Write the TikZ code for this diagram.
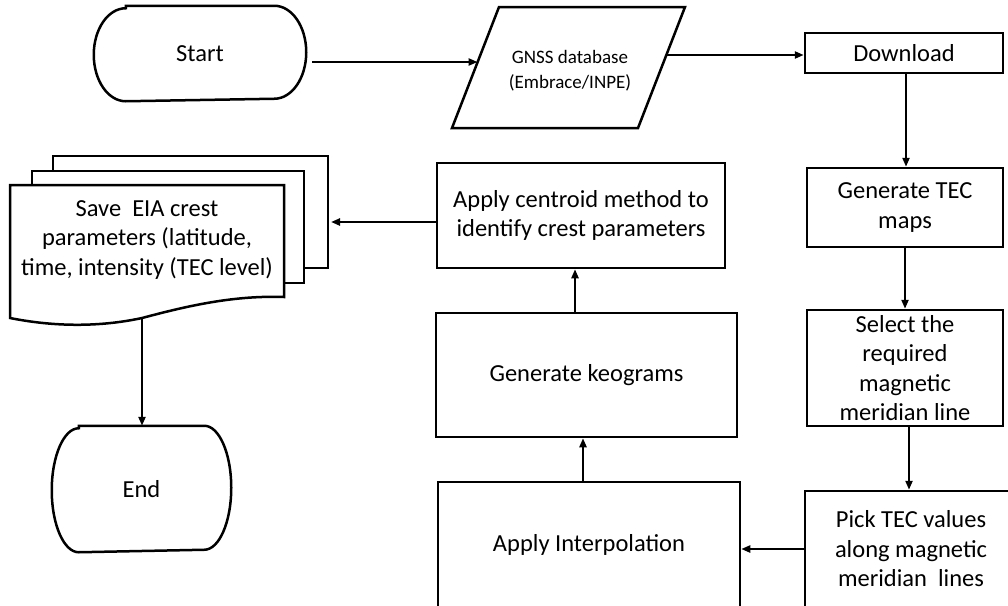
\documentclass[tikz,border=0pt]{standalone}
\usepackage{fontspec}
\setmainfont{Carlito}
\usetikzlibrary{arrows.meta}
\begin{document}
\begin{tikzpicture}[x=1pt,y=1pt,
  line width=2.5pt,
  mainfont/.style={font=\fontsize{24.5}{29.5}\selectfont},
  box/.style={draw, line width=2.5pt, align=center, inner sep=0pt, mainfont},
  plain/.style={align=center, inner sep=0pt, mainfont},
  arr/.style={-{Triangle[length=9pt,width=7pt]}, line width=2.2pt}]
\useasboundingbox (0,0) rectangle (1008,-605);
\clip (0,0) rectangle (1008,-605);

% Start terminator
\node[plain, minimum width=210pt, minimum height=93pt] (start) at (200,-53.5) {Start};
\draw ([xshift=32pt]start.north west) -- ([xshift=-32pt]start.north east)
  arc[start angle=90, end angle=-90, x radius=32pt, y radius=46.5pt]
  -- ([xshift=32pt]start.south west)
  arc[start angle=270, end angle=90, x radius=32pt, y radius=46.5pt] -- cycle;

% GNSS parallelogram
\draw (499,-7) -- (685,-7) -- (638,-128) -- (452,-128) -- cycle;
\node[align=center, inner sep=0pt, font=\fontsize{19}{25}\selectfont] (gnss) at (570,-70.5) {GNSS database\\(Embrace/INPE)};
\coordinate (gnssL) at (477.6,-62);
\coordinate (gnssR) at (666.4,-55);

% Right column
\node[box, minimum width=198pt, minimum height=40pt] (download) at (904,-53) {Download};
\node[box, minimum width=196pt, minimum height=79pt] (tecmaps) at (905,-207.5) {Generate TEC\\maps};
\node[box, minimum width=196pt, minimum height=116pt] (select) at (905,-368) {Select the\\required\\magnetic\\meridian line};
\node[box, minimum width=212pt, minimum height=116pt] (pick) at (911,-549) {Pick TEC values\\along magnetic\\meridian\ \ lines};

% Middle column
\node[box, minimum width=302pt, minimum height=125pt] (interp) at (589,-544.5) {Apply Interpolation};
\node[box, minimum width=301pt, minimum height=124pt] (keo) at (586.5,-375) {Generate keograms};
\node[box, minimum width=288pt, minimum height=105pt] (centroid) at (581,-215.5) {Apply centroid method to\\identify crest parameters};

% Multi-document
\draw (53,-171) -- (53,-156) -- (328,-156) -- (328,-268) -- (304,-268);
\draw (32,-185) -- (32,-171) -- (304,-171) -- (304,-283) -- (284,-283);
\draw (10,-185) -- (284,-185) -- (284,-297)
  .. controls (230,-295) and (180,-308) .. (142,-318)
  .. controls (105,-326) and (60,-328) .. (10,-318) -- cycle;
\node[plain] (save) at (147,-240) {Save\ \ EIA crest\\parameters (latitude,\\time, intensity (TEC level)};
\coordinate (savein) at (331,-222);
\coordinate (saveout) at (142,-318);

% End terminator
\node[plain, minimum width=177pt, minimum height=124pt] (end) at (141.5,-489) {End};
\draw ([xshift=27pt]end.north west) -- ([xshift=-27pt]end.north east)
  arc[start angle=90, end angle=-90, x radius=27pt, y radius=62pt]
  -- ([xshift=27pt]end.south west)
  arc[start angle=270, end angle=90, x radius=27pt, y radius=62pt] -- cycle;

% Connectors
\draw[arr] ([shift={(6pt,-8.5pt)}]start.east) -- (gnssL);
\draw[arr] (gnssR) -- (gnssR -| download.west);
\draw[arr] ([xshift=2pt]download.south) -- ([xshift=2pt]download.south |- tecmaps.north);
\draw[arr] (tecmaps.south) -- (select.north);
\draw[arr] ([xshift=4pt]select.south) -- ([xshift=4pt]select.south |- pick.north);
\draw[arr] (pick.west) -- (pick.west -| interp.east);
\draw[arr] ([xshift=-6pt]interp.north) -- ([xshift=-6pt]interp.north |- keo.south);
\draw[arr] ([xshift=-11.5pt]keo.north) -- ([xshift=-11.5pt]keo.north |- centroid.south);
\draw[arr] ([yshift=-6.5pt]centroid.west) -- (savein);
\draw[arr] (saveout) -- (saveout |- end.north);
\end{tikzpicture}
\end{document}
